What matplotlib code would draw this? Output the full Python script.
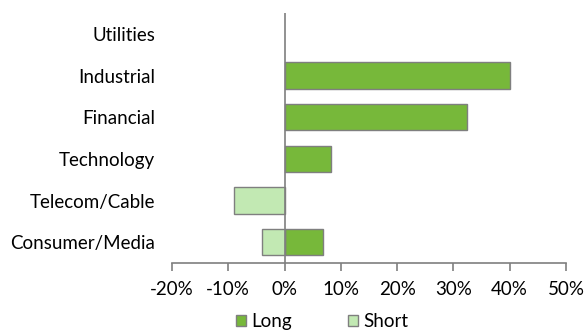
import matplotlib
matplotlib.use("Agg")
import matplotlib.pyplot as plt
import numpy as np
from matplotlib.ticker import FuncFormatter

categories = ["Consumer/Media", "Telecom/Cable", "Technology", "Financial", "Industrial", "Utilities"]
long_pos = [6.8, np.nan, 8.2, 32.4, 40.0, np.nan]
short_pos = [-4.0, -8.9, np.nan, np.nan, np.nan, np.nan]
x_ticks = [-20, -10, 0, 10, 20, 30, 40, 50]

plt.rcParams['font.family'] = ['Lato', 'DejaVu Sans']

fig = plt.figure(figsize=(5.85, 3.33), dpi=100)
ax = fig.add_axes([0.294, 0.21, 0.6735, 0.751])

y = range(len(categories))
ax.barh(y, long_pos, height=0.63, color='#77b83a', edgecolor='#7f7f7f', linewidth=1, label='Long', zorder=2)
ax.barh(y, short_pos, height=0.63, color='#c2e9b3', edgecolor='#7f7f7f', linewidth=1, label='Short', zorder=2)

ax.axvline(0, color='#7f7f7f', linewidth=1.2, zorder=3)
ax.set_xlim(-20, 50)
ax.set_ylim(-0.5, 5.5)
ax.set_xticks(x_ticks)
ax.xaxis.set_major_formatter(FuncFormatter(lambda v, p: f"{v:.0f}%"))
ax.set_yticks(list(y))
ax.set_yticklabels(categories)

for s in ['top', 'right', 'left']:
    ax.spines[s].set_visible(False)
ax.spines['bottom'].set_color('#7f7f7f')
ax.spines['bottom'].set_linewidth(1.2)
ax.tick_params(axis='x', colors='#7f7f7f', length=6, width=1.2, labelsize=13.5, labelcolor='black', pad=7)
ax.tick_params(axis='y', length=0, labelsize=13.5, pad=12)

fig.legend(loc='lower center', bbox_to_anchor=(0.551, -0.042), ncol=2, frameon=False, fontsize=13.5,
           handlelength=0.5, handleheight=0.5, handletextpad=0.3, columnspacing=3.0)

fig.savefig("out.png", dpi=100)
